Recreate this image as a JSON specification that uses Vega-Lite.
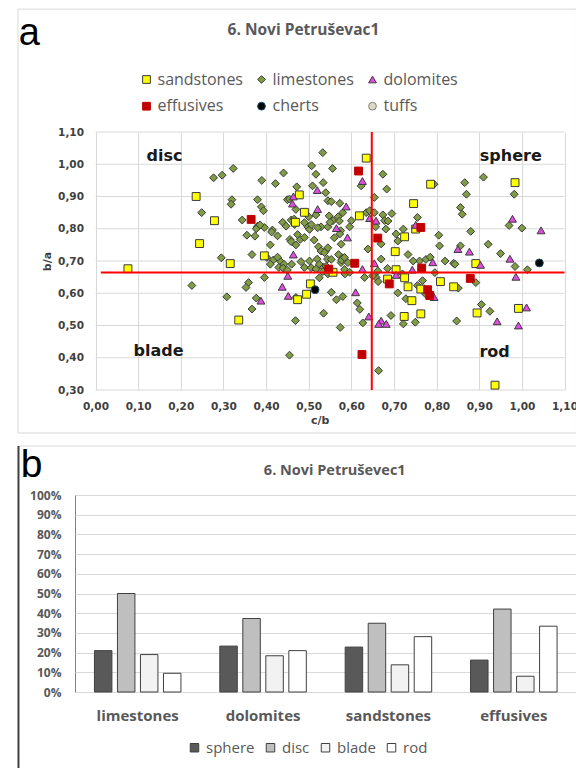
{
"$schema": "https://vega.github.io/schema/vega-lite/v6.json",
"padding": {"left": 16, "top": 8, "right": 0, "bottom": 0},
"spacing": 10,
"config": {"font": "Open Sans"},
"resolve": {"scale": {"fill": "independent", "stroke": "independent", "shape": "independent"}, "legend": {"fill": "independent", "stroke": "independent", "shape": "independent"}},
"vconcat": [
{
 "width": 489.5, "height": 258,
 "view": {"stroke": null},
 "title": {"text": "6. Novi Petruševac1", "anchor": "middle", "frame": "bounds", "offset": -41.5, "dx": 6, "baseline": "alphabetic", "font": "Open Sans", "fontSize": 15.5, "fontWeight": "bold", "color": "#595959"},
 "layer": [
  {"data": {"values": [{}]},
   "mark": {"type": "rect", "fill": "transparent", "stroke": "#d9d9d9", "strokeWidth": 1},
   "encoding": {
    "x": {"datum": -0.1818, "type": "quantitative", "scale": {"domain": [-0.0481, 1.1], "nice": false, "zero": false},
      "axis": {"values": [0, 0.1, 0.2, 0.3, 0.4, 0.5, 0.6, 0.7, 0.8, 0.9, 1.0, 1.1], "labelExpr": "replace(format(datum.value, '.2f'), '.', ',')", "labelFont": "DejaVu Sans", "labelFontWeight": "bold", "labelFontSize": 10.5, "labelColor": "#404040", "labelPadding": 11, "labelFlush": false, "labelOverlap": false, "ticks": false, "domain": false, "grid": true, "gridColor": "#d9d9d9", "title": "c/b", "titleFont": "DejaVu Sans", "titleFontSize": 11, "titleFontWeight": "bold", "titleColor": "#404040", "titlePadding": 3}},
    "x2": {"datum": 1.128},
    "y": {"datum": 1.481, "type": "quantitative", "scale": {"domain": [0.3, 1.1], "nice": false, "zero": false},
      "axis": {"values": [0.3, 0.4, 0.5, 0.6, 0.7, 0.8, 0.9, 1.0, 1.1], "labelExpr": "replace(format(datum.value, '.2f'), '.', ',')", "labelFont": "DejaVu Sans", "labelFontWeight": "bold", "labelFontSize": 10.5, "labelColor": "#404040", "labelPadding": 12, "labelFlush": false, "labelOverlap": false, "ticks": false, "domain": false, "grid": false, "offset": -20.5, "title": "b/a", "titleFont": "DejaVu Sans", "titleFontSize": 11, "titleFontWeight": "bold", "titleColor": "#404040", "titlePadding": 5}},
    "y2": {"datum": 0.1667}}},
  {"data": {"values": [{}]},
   "mark": {"type": "text", "text": "a", "font": "Liberation Sans", "fontSize": 38, "align": "center", "baseline": "alphabetic", "color": "#000000"},
   "encoding": {
    "x": {"datum": -0.155, "type": "quantitative", "scale": {"domain": [-0.0481, 1.1], "nice": false, "zero": false},
      "axis": {"values": [0, 0.1, 0.2, 0.3, 0.4, 0.5, 0.6, 0.7, 0.8, 0.9, 1.0, 1.1], "labelExpr": "replace(format(datum.value, '.2f'), '.', ',')", "labelFont": "DejaVu Sans", "labelFontWeight": "bold", "labelFontSize": 10.5, "labelColor": "#404040", "labelPadding": 11, "labelFlush": false, "labelOverlap": false, "ticks": false, "domain": false, "grid": true, "gridColor": "#d9d9d9", "title": "c/b", "titleFont": "DejaVu Sans", "titleFontSize": 11, "titleFontWeight": "bold", "titleColor": "#404040", "titlePadding": 3}},
    "y": {"datum": 1.37, "type": "quantitative", "scale": {"domain": [0.3, 1.1], "nice": false, "zero": false},
      "axis": {"values": [0.3, 0.4, 0.5, 0.6, 0.7, 0.8, 0.9, 1.0, 1.1], "labelExpr": "replace(format(datum.value, '.2f'), '.', ',')", "labelFont": "DejaVu Sans", "labelFontWeight": "bold", "labelFontSize": 10.5, "labelColor": "#404040", "labelPadding": 12, "labelFlush": false, "labelOverlap": false, "ticks": false, "domain": false, "grid": false, "offset": -20.5, "title": "b/a", "titleFont": "DejaVu Sans", "titleFontSize": 11, "titleFontWeight": "bold", "titleColor": "#404040", "titlePadding": 5}}}},
  {"data": {"values": [{"g": 0.3}, {"g": 0.4}, {"g": 0.5}, {"g": 0.6}, {"g": 0.7}, {"g": 0.8}, {"g": 0.9}, {"g": 1.0}, {"g": 1.1}]},
   "mark": {"type": "rule", "color": "#d9d9d9", "strokeWidth": 1},
   "encoding": {
    "y": {"field": "g", "type": "quantitative", "scale": {"domain": [0.3, 1.1], "nice": false, "zero": false},
      "axis": {"values": [0.3, 0.4, 0.5, 0.6, 0.7, 0.8, 0.9, 1.0, 1.1], "labelExpr": "replace(format(datum.value, '.2f'), '.', ',')", "labelFont": "DejaVu Sans", "labelFontWeight": "bold", "labelFontSize": 10.5, "labelColor": "#404040", "labelPadding": 12, "labelFlush": false, "labelOverlap": false, "ticks": false, "domain": false, "grid": false, "offset": -20.5, "title": "b/a", "titleFont": "DejaVu Sans", "titleFontSize": 11, "titleFontWeight": "bold", "titleColor": "#404040", "titlePadding": 5}},
    "x": {"datum": 0, "type": "quantitative", "scale": {"domain": [-0.0481, 1.1], "nice": false, "zero": false},
      "axis": {"values": [0, 0.1, 0.2, 0.3, 0.4, 0.5, 0.6, 0.7, 0.8, 0.9, 1.0, 1.1], "labelExpr": "replace(format(datum.value, '.2f'), '.', ',')", "labelFont": "DejaVu Sans", "labelFontWeight": "bold", "labelFontSize": 10.5, "labelColor": "#404040", "labelPadding": 11, "labelFlush": false, "labelOverlap": false, "ticks": false, "domain": false, "grid": true, "gridColor": "#d9d9d9", "title": "c/b", "titleFont": "DejaVu Sans", "titleFontSize": 11, "titleFontWeight": "bold", "titleColor": "#404040", "titlePadding": 3}},
    "x2": {"datum": 1.1}}},
  {"data": {"values": [
{"t":"limestones","x":0.277,"y":0.958},{"t":"limestones","x":0.297,"y":0.966},{"t":"limestones","x":0.249,"y":0.85},{"t":"limestones","x":0.226,"y":0.624},{"t":"limestones","x":0.295,"y":0.71},
{"t":"limestones","x":0.323,"y":0.987},{"t":"limestones","x":0.32,"y":0.89},{"t":"limestones","x":0.318,"y":0.876},{"t":"limestones","x":0.344,"y":0.827},{"t":"limestones","x":0.39,"y":0.95},{"t":"limestones","x":0.422,"y":0.94},{"t":"limestones","x":0.441,"y":0.973},{"t":"limestones","x":0.38,"y":0.89},{"t":"limestones","x":0.389,"y":0.868},{"t":"limestones","x":0.394,"y":0.856},{"t":"limestones","x":0.38,"y":0.808},{"t":"limestones","x":0.396,"y":0.804},{"t":"limestones","x":0.355,"y":0.78},{"t":"limestones","x":0.374,"y":0.777},{"t":"limestones","x":0.367,"y":0.72},{"t":"limestones","x":0.41,"y":0.75},{"t":"limestones","x":0.415,"y":0.796},{"t":"limestones","x":0.427,"y":0.778},{"t":"limestones","x":0.439,"y":0.82},{"t":"limestones","x":0.447,"y":0.808},{"t":"limestones","x":0.456,"y":0.767},{"t":"limestones","x":0.47,"y":0.86},{"t":"limestones","x":0.472,"y":0.93},{"t":"limestones","x":0.45,"y":0.89},{"t":"limestones","x":0.48,"y":0.767},{"t":"limestones","x":0.49,"y":0.773},{"t":"limestones","x":0.498,"y":0.806},{"t":"limestones","x":0.402,"y":0.711},{"t":"limestones","x":0.417,"y":0.703},{"t":"limestones","x":0.433,"y":0.7},{"t":"limestones","x":0.482,"y":0.698},{"t":"limestones","x":0.5,"y":0.837},{"t":"limestones","x":0.427,"y":0.712},{"t":"limestones","x":0.442,"y":0.69},{"t":"limestones","x":0.459,"y":0.76},{"t":"limestones","x":0.47,"y":0.75},{"t":"limestones","x":0.474,"y":0.782},{"t":"limestones","x":0.459,"y":0.827},{"t":"limestones","x":0.467,"y":0.813},{"t":"limestones","x":0.49,"y":0.819},{"t":"limestones","x":0.377,"y":0.8},{"t":"limestones","x":0.386,"y":0.812},{"t":"limestones","x":0.413,"y":0.79},{"t":"limestones","x":0.455,"y":0.892},{"t":"limestones","x":0.466,"y":0.83},
{"t":"limestones","x":0.533,"y":1.036},{"t":"limestones","x":0.507,"y":0.995},{"t":"limestones","x":0.517,"y":0.969},{"t":"limestones","x":0.534,"y":0.943},{"t":"limestones","x":0.509,"y":0.933},{"t":"limestones","x":0.54,"y":0.912},{"t":"limestones","x":0.517,"y":0.843},{"t":"limestones","x":0.545,"y":0.887},{"t":"limestones","x":0.529,"y":0.806},{"t":"limestones","x":0.545,"y":0.806},{"t":"limestones","x":0.548,"y":0.84},{"t":"limestones","x":0.523,"y":0.744},{"t":"limestones","x":0.54,"y":0.732},{"t":"limestones","x":0.544,"y":0.706},{"t":"limestones","x":0.52,"y":0.706},{"t":"limestones","x":0.502,"y":0.7},{"t":"limestones","x":0.556,"y":0.987},{"t":"limestones","x":0.623,"y":0.933},{"t":"limestones","x":0.553,"y":0.884},{"t":"limestones","x":0.573,"y":0.879},{"t":"limestones","x":0.58,"y":0.85},{"t":"limestones","x":0.557,"y":0.825},{"t":"limestones","x":0.569,"y":0.837},{"t":"limestones","x":0.635,"y":0.85},{"t":"limestones","x":0.643,"y":0.856},{"t":"limestones","x":0.6,"y":0.825},{"t":"limestones","x":0.596,"y":0.806},{"t":"limestones","x":0.55,"y":0.82},{"t":"limestones","x":0.575,"y":0.794},{"t":"limestones","x":0.573,"y":0.784},{"t":"limestones","x":0.639,"y":0.737},{"t":"limestones","x":0.57,"y":0.72},{"t":"limestones","x":0.58,"y":0.71},{"t":"limestones","x":0.572,"y":0.824},{"t":"limestones","x":0.56,"y":0.772},{"t":"limestones","x":0.576,"y":0.752},{"t":"limestones","x":0.545,"y":0.741},{"t":"limestones","x":0.529,"y":0.731},{"t":"limestones","x":0.537,"y":0.726},{"t":"limestones","x":0.553,"y":0.705},{"t":"limestones","x":0.576,"y":0.695},{"t":"limestones","x":0.592,"y":0.695},{"t":"limestones","x":0.502,"y":0.798},{"t":"limestones","x":0.506,"y":0.813},{"t":"limestones","x":0.521,"y":0.803},{"t":"limestones","x":0.513,"y":0.765},{"t":"limestones","x":0.577,"y":0.703},{"t":"limestones","x":0.584,"y":0.711},
{"t":"limestones","x":0.674,"y":0.969},{"t":"limestones","x":0.683,"y":0.923},{"t":"limestones","x":0.654,"y":0.897},{"t":"limestones","x":0.654,"y":0.85},{"t":"limestones","x":0.674,"y":0.843},{"t":"limestones","x":0.678,"y":0.825},{"t":"limestones","x":0.695,"y":0.847},{"t":"limestones","x":0.657,"y":0.806},{"t":"limestones","x":0.681,"y":0.799},{"t":"limestones","x":0.755,"y":0.835},{"t":"limestones","x":0.722,"y":0.799},{"t":"limestones","x":0.705,"y":0.784},{"t":"limestones","x":0.67,"y":0.753},{"t":"limestones","x":0.67,"y":0.706},{"t":"limestones","x":0.794,"y":0.938},{"t":"limestones","x":0.866,"y":0.943},{"t":"limestones","x":0.87,"y":0.907},{"t":"limestones","x":0.856,"y":0.866},{"t":"limestones","x":0.86,"y":0.845},{"t":"limestones","x":0.805,"y":0.78},{"t":"limestones","x":0.807,"y":0.747},{"t":"limestones","x":0.88,"y":0.792},{"t":"limestones","x":0.856,"y":0.747},{"t":"limestones","x":0.84,"y":0.693},{"t":"limestones","x":0.76,"y":0.7},{"t":"limestones","x":0.775,"y":0.705},{"t":"limestones","x":0.785,"y":0.712},{"t":"limestones","x":0.91,"y":0.96},{"t":"limestones","x":0.982,"y":0.907},{"t":"limestones","x":0.97,"y":0.81},{"t":"limestones","x":1.0,"y":0.802},{"t":"limestones","x":0.921,"y":0.752},{"t":"limestones","x":0.95,"y":0.723},{"t":"limestones","x":0.984,"y":0.683},{"t":"limestones","x":1.013,"y":0.673},{"t":"limestones","x":0.686,"y":0.824},{"t":"limestones","x":0.709,"y":0.762},{"t":"limestones","x":0.685,"y":0.677},{"t":"limestones","x":0.733,"y":0.72},{"t":"limestones","x":0.745,"y":0.7},{"t":"limestones","x":0.82,"y":0.7},{"t":"limestones","x":0.843,"y":0.69},
{"t":"limestones","x":0.308,"y":0.589},{"t":"limestones","x":0.359,"y":0.633},{"t":"limestones","x":0.353,"y":0.618},{"t":"limestones","x":0.396,"y":0.649},{"t":"limestones","x":0.367,"y":0.551},{"t":"limestones","x":0.377,"y":0.585},{"t":"limestones","x":0.47,"y":0.587},{"t":"limestones","x":0.469,"y":0.515},{"t":"limestones","x":0.455,"y":0.408},{"t":"limestones","x":0.43,"y":0.68},{"t":"limestones","x":0.44,"y":0.678},{"t":"limestones","x":0.45,"y":0.672},{"t":"limestones","x":0.46,"y":0.69},{"t":"limestones","x":0.49,"y":0.68},{"t":"limestones","x":0.41,"y":0.69},
{"t":"limestones","x":0.535,"y":0.538},{"t":"limestones","x":0.525,"y":0.69},{"t":"limestones","x":0.535,"y":0.68},{"t":"limestones","x":0.546,"y":0.67},{"t":"limestones","x":0.585,"y":0.66},{"t":"limestones","x":0.596,"y":0.665},{"t":"limestones","x":0.709,"y":0.601},{"t":"limestones","x":0.728,"y":0.583},{"t":"limestones","x":0.614,"y":0.57},{"t":"limestones","x":0.62,"y":0.55},{"t":"limestones","x":0.58,"y":0.59},{"t":"limestones","x":0.565,"y":0.58},{"t":"limestones","x":0.553,"y":0.603},{"t":"limestones","x":0.693,"y":0.531},{"t":"limestones","x":0.722,"y":0.505},{"t":"limestones","x":0.75,"y":0.51},{"t":"limestones","x":0.627,"y":0.508},{"t":"limestones","x":0.574,"y":0.494},{"t":"limestones","x":0.847,"y":0.514},{"t":"limestones","x":0.664,"y":0.36},{"t":"limestones","x":0.658,"y":0.649},{"t":"limestones","x":0.631,"y":0.649},{"t":"limestones","x":0.767,"y":0.639},{"t":"limestones","x":0.755,"y":0.624},{"t":"limestones","x":0.774,"y":0.598},{"t":"limestones","x":0.892,"y":0.633},{"t":"limestones","x":0.851,"y":0.616},{"t":"limestones","x":0.905,"y":0.565},{"t":"limestones","x":0.925,"y":0.544},{"t":"limestones","x":0.796,"y":0.664},{"t":"limestones","x":0.65,"y":0.654},{"t":"limestones","x":0.662,"y":0.669},{"t":"limestones","x":0.506,"y":0.679},{"t":"limestones","x":0.525,"y":0.648},{"t":"limestones","x":0.541,"y":0.684},{"t":"limestones","x":0.584,"y":0.674},{"t":"limestones","x":0.517,"y":0.675},{"t":"limestones","x":0.533,"y":0.667},{"t":"limestones","x":0.545,"y":0.66},{"t":"limestones","x":0.663,"y":0.636},{"t":"limestones","x":0.72,"y":0.66},
{"t":"sandstones","x":0.076,"y":0.676},{"t":"sandstones","x":0.236,"y":0.9},{"t":"sandstones","x":0.279,"y":0.825},{"t":"sandstones","x":0.244,"y":0.754},{"t":"sandstones","x":0.316,"y":0.692},{"t":"sandstones","x":0.396,"y":0.716},{"t":"sandstones","x":0.478,"y":0.905},{"t":"sandstones","x":0.49,"y":0.851},{"t":"sandstones","x":0.469,"y":0.82},{"t":"sandstones","x":0.336,"y":0.517},{"t":"sandstones","x":0.474,"y":0.58},{"t":"sandstones","x":0.495,"y":0.597},{"t":"sandstones","x":0.504,"y":0.629},{"t":"sandstones","x":0.557,"y":0.665},{"t":"sandstones","x":0.635,"y":1.019},{"t":"sandstones","x":0.619,"y":0.84},{"t":"sandstones","x":0.746,"y":0.878},{"t":"sandstones","x":0.751,"y":0.799},{"t":"sandstones","x":0.725,"y":0.775},{"t":"sandstones","x":0.703,"y":0.729},{"t":"sandstones","x":0.786,"y":0.938},{"t":"sandstones","x":0.984,"y":0.943},{"t":"sandstones","x":0.892,"y":0.692},{"t":"sandstones","x":0.705,"y":0.673},{"t":"sandstones","x":0.685,"y":0.644},{"t":"sandstones","x":0.809,"y":0.636},{"t":"sandstones","x":0.84,"y":0.62},{"t":"sandstones","x":0.733,"y":0.62},{"t":"sandstones","x":0.763,"y":0.613},{"t":"sandstones","x":0.742,"y":0.577},{"t":"sandstones","x":0.724,"y":0.528},{"t":"sandstones","x":0.763,"y":0.536},{"t":"sandstones","x":0.895,"y":0.539},{"t":"sandstones","x":0.992,"y":0.553},{"t":"sandstones","x":0.937,"y":0.315},{"t":"sandstones","x":0.725,"y":0.648},
{"t":"dolomites","x":0.464,"y":0.9},{"t":"dolomites","x":0.462,"y":0.878},{"t":"dolomites","x":0.464,"y":0.72},{"t":"dolomites","x":0.52,"y":0.92},{"t":"dolomites","x":0.521,"y":0.861},{"t":"dolomites","x":0.626,"y":0.948},{"t":"dolomites","x":0.588,"y":0.869},{"t":"dolomites","x":0.643,"y":0.833},{"t":"dolomites","x":0.565,"y":0.802},{"t":"dolomites","x":0.591,"y":0.773},{"t":"dolomites","x":0.658,"y":0.825},{"t":"dolomites","x":0.751,"y":0.812},{"t":"dolomites","x":0.85,"y":0.737},{"t":"dolomites","x":0.877,"y":0.729},{"t":"dolomites","x":0.791,"y":0.696},{"t":"dolomites","x":0.654,"y":0.693},{"t":"dolomites","x":0.978,"y":0.831},{"t":"dolomites","x":1.045,"y":0.795},{"t":"dolomites","x":0.972,"y":0.707},{"t":"dolomites","x":0.903,"y":0.688},{"t":"dolomites","x":0.388,"y":0.577},{"t":"dolomites","x":0.438,"y":0.62},{"t":"dolomites","x":0.451,"y":0.654},{"t":"dolomites","x":0.452,"y":0.592},{"t":"dolomites","x":0.626,"y":0.675},{"t":"dolomites","x":0.705,"y":0.657},{"t":"dolomites","x":0.743,"y":0.673},{"t":"dolomites","x":0.794,"y":0.588},{"t":"dolomites","x":0.61,"y":0.603},{"t":"dolomites","x":0.641,"y":0.528},{"t":"dolomites","x":0.67,"y":0.515},{"t":"dolomites","x":0.664,"y":0.505},{"t":"dolomites","x":0.682,"y":0.505},{"t":"dolomites","x":0.942,"y":0.513},{"t":"dolomites","x":1.011,"y":0.556},{"t":"dolomites","x":0.992,"y":0.5},{"t":"dolomites","x":0.986,"y":0.651},
{"t":"effusives","x":0.365,"y":0.829},{"t":"effusives","x":0.617,"y":0.979},{"t":"effusives","x":0.608,"y":0.693},{"t":"effusives","x":0.763,"y":0.804},{"t":"effusives","x":0.662,"y":0.771},{"t":"effusives","x":0.547,"y":0.675},{"t":"effusives","x":0.689,"y":0.629},{"t":"effusives","x":0.765,"y":0.678},{"t":"effusives","x":0.879,"y":0.646},{"t":"effusives","x":0.779,"y":0.611},{"t":"effusives","x":0.784,"y":0.593},{"t":"effusives","x":0.625,"y":0.41},
{"t":"cherts","x":0.515,"y":0.611},{"t":"cherts","x":1.041,"y":0.694}
  ]},
   "mark": {"type": "point", "filled": true, "size": 62, "strokeWidth": 1, "opacity": 1},
   "encoding": {
    "x": {"field": "x", "type": "quantitative", "scale": {"domain": [-0.0481, 1.1], "nice": false, "zero": false},
      "axis": {"values": [0, 0.1, 0.2, 0.3, 0.4, 0.5, 0.6, 0.7, 0.8, 0.9, 1.0, 1.1], "labelExpr": "replace(format(datum.value, '.2f'), '.', ',')", "labelFont": "DejaVu Sans", "labelFontWeight": "bold", "labelFontSize": 10.5, "labelColor": "#404040", "labelPadding": 11, "labelFlush": false, "labelOverlap": false, "ticks": false, "domain": false, "grid": true, "gridColor": "#d9d9d9", "title": "c/b", "titleFont": "DejaVu Sans", "titleFontSize": 11, "titleFontWeight": "bold", "titleColor": "#404040", "titlePadding": 3}},
    "y": {"field": "y", "type": "quantitative", "scale": {"domain": [0.3, 1.1], "nice": false, "zero": false},
      "axis": {"values": [0.3, 0.4, 0.5, 0.6, 0.7, 0.8, 0.9, 1.0, 1.1], "labelExpr": "replace(format(datum.value, '.2f'), '.', ',')", "labelFont": "DejaVu Sans", "labelFontWeight": "bold", "labelFontSize": 10.5, "labelColor": "#404040", "labelPadding": 12, "labelFlush": false, "labelOverlap": false, "ticks": false, "domain": false, "grid": false, "offset": -20.5, "title": "b/a", "titleFont": "DejaVu Sans", "titleFontSize": 11, "titleFontWeight": "bold", "titleColor": "#404040", "titlePadding": 5}},
    "shape": {"field": "t", "type": "nominal",
      "scale": {"domain": ["sandstones", "limestones", "dolomites", "effusives", "cherts", "tuffs"], "range": ["square", "diamond", "triangle-up", "square", "circle", "circle"]},
      "legend": {"title": null, "orient": "none", "legendX": 63.5, "legendY": -60.5, "direction": "horizontal", "columns": 3, "labelFont": "Open Sans", "labelFontSize": 16, "labelColor": "#595959", "symbolSize": 60, "symbolStrokeWidth": 1, "labelOffset": 3, "columnPadding": 10, "rowPadding": 10.7}},
    "fill": {"field": "t", "type": "nominal",
      "scale": {"domain": ["sandstones", "limestones", "dolomites", "effusives", "cherts", "tuffs"], "range": ["#ffff00", "#809c45", "#e04be0", "#c00000", "#000000", "#ddd9c3"]},
      "legend": {"title": null, "orient": "none", "legendX": 63.5, "legendY": -60.5, "direction": "horizontal", "columns": 3, "labelFont": "Open Sans", "labelFontSize": 16, "labelColor": "#595959", "symbolSize": 60, "symbolStrokeWidth": 1, "labelOffset": 3, "columnPadding": 10, "rowPadding": 10.7}},
    "stroke": {"field": "t", "type": "nominal",
      "scale": {"domain": ["sandstones", "limestones", "dolomites", "effusives", "cherts", "tuffs"], "range": ["#3a3a3a", "#3a3a3a", "#3a3a3a", "#c00000", "#1f4e5f", "#7f7f7f"]},
      "legend": {"title": null, "orient": "none", "legendX": 63.5, "legendY": -60.5, "direction": "horizontal", "columns": 3, "labelFont": "Open Sans", "labelFontSize": 16, "labelColor": "#595959", "symbolSize": 60, "symbolStrokeWidth": 1, "labelOffset": 3, "columnPadding": 10, "rowPadding": 10.7}}
   }},
  {"data": {"values": [{}]},
   "mark": {"type": "rule", "color": "#ff0000", "strokeWidth": 2},
   "encoding": {
    "x": {"datum": 0.648, "type": "quantitative", "scale": {"domain": [-0.0481, 1.1], "nice": false, "zero": false},
      "axis": {"values": [0, 0.1, 0.2, 0.3, 0.4, 0.5, 0.6, 0.7, 0.8, 0.9, 1.0, 1.1], "labelExpr": "replace(format(datum.value, '.2f'), '.', ',')", "labelFont": "DejaVu Sans", "labelFontWeight": "bold", "labelFontSize": 10.5, "labelColor": "#404040", "labelPadding": 11, "labelFlush": false, "labelOverlap": false, "ticks": false, "domain": false, "grid": true, "gridColor": "#d9d9d9", "title": "c/b", "titleFont": "DejaVu Sans", "titleFontSize": 11, "titleFontWeight": "bold", "titleColor": "#404040", "titlePadding": 3}},
    "y": {"datum": 0.3, "type": "quantitative", "scale": {"domain": [0.3, 1.1], "nice": false, "zero": false},
      "axis": {"values": [0.3, 0.4, 0.5, 0.6, 0.7, 0.8, 0.9, 1.0, 1.1], "labelExpr": "replace(format(datum.value, '.2f'), '.', ',')", "labelFont": "DejaVu Sans", "labelFontWeight": "bold", "labelFontSize": 10.5, "labelColor": "#404040", "labelPadding": 12, "labelFlush": false, "labelOverlap": false, "ticks": false, "domain": false, "grid": false, "offset": -20.5, "title": "b/a", "titleFont": "DejaVu Sans", "titleFontSize": 11, "titleFontWeight": "bold", "titleColor": "#404040", "titlePadding": 5}},
    "y2": {"datum": 1.1}}},
  {"data": {"values": [{}]},
   "mark": {"type": "rule", "color": "#ff0000", "strokeWidth": 2},
   "encoding": {
    "y": {"datum": 0.664, "type": "quantitative", "scale": {"domain": [0.3, 1.1], "nice": false, "zero": false},
      "axis": {"values": [0.3, 0.4, 0.5, 0.6, 0.7, 0.8, 0.9, 1.0, 1.1], "labelExpr": "replace(format(datum.value, '.2f'), '.', ',')", "labelFont": "DejaVu Sans", "labelFontWeight": "bold", "labelFontSize": 10.5, "labelColor": "#404040", "labelPadding": 12, "labelFlush": false, "labelOverlap": false, "ticks": false, "domain": false, "grid": false, "offset": -20.5, "title": "b/a", "titleFont": "DejaVu Sans", "titleFontSize": 11, "titleFontWeight": "bold", "titleColor": "#404040", "titlePadding": 5}},
    "x": {"datum": 0.0125, "type": "quantitative", "scale": {"domain": [-0.0481, 1.1], "nice": false, "zero": false},
      "axis": {"values": [0, 0.1, 0.2, 0.3, 0.4, 0.5, 0.6, 0.7, 0.8, 0.9, 1.0, 1.1], "labelExpr": "replace(format(datum.value, '.2f'), '.', ',')", "labelFont": "DejaVu Sans", "labelFontWeight": "bold", "labelFontSize": 10.5, "labelColor": "#404040", "labelPadding": 11, "labelFlush": false, "labelOverlap": false, "ticks": false, "domain": false, "grid": true, "gridColor": "#d9d9d9", "title": "c/b", "titleFont": "DejaVu Sans", "titleFontSize": 11, "titleFontWeight": "bold", "titleColor": "#404040", "titlePadding": 3}},
    "x2": {"datum": 1.1}}},
  {"data": {"values": [{"q": "disc", "px": 0.162, "py": 1.026}, {"q": "sphere", "px": 0.974, "py": 1.026}, {"q": "blade", "px": 0.148, "py": 0.421}, {"q": "rod", "px": 0.936, "py": 0.418}]},
   "mark": {"type": "text", "font": "DejaVu Sans", "fontSize": 16, "fontWeight": "bold", "color": "#1a1a1a", "align": "center", "baseline": "middle"},
   "encoding": {
    "text": {"field": "q"},
    "x": {"field": "px", "type": "quantitative", "scale": {"domain": [-0.0481, 1.1], "nice": false, "zero": false},
      "axis": {"values": [0, 0.1, 0.2, 0.3, 0.4, 0.5, 0.6, 0.7, 0.8, 0.9, 1.0, 1.1], "labelExpr": "replace(format(datum.value, '.2f'), '.', ',')", "labelFont": "DejaVu Sans", "labelFontWeight": "bold", "labelFontSize": 10.5, "labelColor": "#404040", "labelPadding": 11, "labelFlush": false, "labelOverlap": false, "ticks": false, "domain": false, "grid": true, "gridColor": "#d9d9d9", "title": "c/b", "titleFont": "DejaVu Sans", "titleFontSize": 11, "titleFontWeight": "bold", "titleColor": "#404040", "titlePadding": 3}},
    "y": {"field": "py", "type": "quantitative", "scale": {"domain": [0.3, 1.1], "nice": false, "zero": false},
      "axis": {"values": [0.3, 0.4, 0.5, 0.6, 0.7, 0.8, 0.9, 1.0, 1.1], "labelExpr": "replace(format(datum.value, '.2f'), '.', ',')", "labelFont": "DejaVu Sans", "labelFontWeight": "bold", "labelFontSize": 10.5, "labelColor": "#404040", "labelPadding": 12, "labelFlush": false, "labelOverlap": false, "ticks": false, "domain": false, "grid": false, "offset": -20.5, "title": "b/a", "titleFont": "DejaVu Sans", "titleFontSize": 11, "titleFontWeight": "bold", "titleColor": "#404040", "titlePadding": 5}}}}
 ]
},
{
 "width": 501.5, "height": 197,
 "view": {"stroke": "#808080"},
 "title": {"text": "6. Novi Petruševec1", "anchor": "middle", "frame": "group", "offset": -44.5, "dx": 9, "baseline": "alphabetic", "font": "Open Sans", "fontSize": 14.5, "fontWeight": "bold", "color": "#595959"},
 "resolve": {"scale": {"x": "independent"}},
 "layer": [
  {"data": {"values": [
{"rock":"limestones","shape":"sphere","value":0.21},{"rock":"limestones","shape":"disc","value":0.5},{"rock":"limestones","shape":"blade","value":0.19},{"rock":"limestones","shape":"rod","value":0.095},
{"rock":"dolomites","shape":"sphere","value":0.233},{"rock":"dolomites","shape":"disc","value":0.373},{"rock":"dolomites","shape":"blade","value":0.184},{"rock":"dolomites","shape":"rod","value":0.21},
{"rock":"sandstones","shape":"sphere","value":0.228},{"rock":"sandstones","shape":"disc","value":0.349},{"rock":"sandstones","shape":"blade","value":0.138},{"rock":"sandstones","shape":"rod","value":0.281},
{"rock":"effusives","shape":"sphere","value":0.162},{"rock":"effusives","shape":"disc","value":0.421},{"rock":"effusives","shape":"blade","value":0.08},{"rock":"effusives","shape":"rod","value":0.334}
  ]},
   "mark": {"type": "bar", "stroke": "#404040", "strokeWidth": 1},
   "encoding": {
    "x": {"field": "rock", "type": "nominal", "sort": ["limestones", "dolomites", "sandstones", "effusives"], "scale": {"paddingInner": 0.31, "paddingOuter": 0.155},
      "axis": {"title": null, "labelAngle": 0, "labelFont": "Open Sans", "labelFontWeight": "bold", "labelFontSize": 15, "labelColor": "#595959", "labelPadding": 16, "ticks": false, "domain": false, "grid": false}},
    "xOffset": {"field": "shape", "type": "nominal", "sort": ["sphere", "disc", "blade", "rod"], "scale": {"paddingInner": 0.24, "paddingOuter": 0}},
    "y": {"field": "value", "type": "quantitative", "scale": {"domain": [0, 1], "nice": false, "zero": true},
      "axis": {"values": [0, 0.1, 0.2, 0.3, 0.4, 0.5, 0.6, 0.7, 0.8, 0.9, 1.0], "format": ".0%", "title": null, "labelFont": "Open Sans", "labelFontWeight": "bold", "labelFontSize": 12, "labelColor": "#595959", "labelPadding": 14, "labelFlush": false, "ticks": false, "domain": false, "grid": true, "gridColor": "#d9d9d9"}},
    "fill": {"field": "shape", "type": "nominal", "scale": {"domain": ["sphere", "disc", "blade", "rod"], "range": ["#595959", "#bfbfbf", "#f2f2f2", "#ffffff"]},
      "legend": {"title": null, "orient": "none", "legendX": 112, "legendY": 245, "direction": "horizontal", "labelFont": "Open Sans", "labelFontSize": 15, "labelColor": "#595959", "symbolType": "square", "symbolSize": 72, "symbolStrokeColor": "#404040", "symbolStrokeWidth": 1, "labelOffset": 4, "columnPadding": 8}}
   }},
  {"data": {"values": [{}]},
   "mark": {"type": "text", "text": "b", "font": "Liberation Sans", "fontSize": 39, "align": "center", "baseline": "alphabetic", "color": "#000000"},
   "encoding": {
    "x": {"datum": -0.0867, "type": "quantitative", "scale": {"domain": [0, 1], "nice": false, "zero": false}, "axis": null},
    "y": {"datum": 1.091, "type": "quantitative", "scale": {"domain": [0, 1], "nice": false, "zero": true},
      "axis": {"values": [0, 0.1, 0.2, 0.3, 0.4, 0.5, 0.6, 0.7, 0.8, 0.9, 1.0], "format": ".0%", "title": null, "labelFont": "Open Sans", "labelFontWeight": "bold", "labelFontSize": 12, "labelColor": "#595959", "labelPadding": 14, "labelFlush": false, "ticks": false, "domain": false, "grid": true, "gridColor": "#d9d9d9"}}}},
  {"data": {"values": [{}]},
   "mark": {"type": "rule", "color": "#d9d9d9", "strokeWidth": 1},
   "encoding": {
    "x": {"datum": -0.1127, "type": "quantitative", "scale": {"domain": [0, 1], "nice": false, "zero": false}, "axis": null},
    "x2": {"datum": 1.004},
    "y": {"datum": 1.2487, "type": "quantitative", "scale": {"domain": [0, 1], "nice": false, "zero": true},
      "axis": {"values": [0, 0.1, 0.2, 0.3, 0.4, 0.5, 0.6, 0.7, 0.8, 0.9, 1.0], "format": ".0%", "title": null, "labelFont": "Open Sans", "labelFontWeight": "bold", "labelFontSize": 12, "labelColor": "#595959", "labelPadding": 14, "labelFlush": false, "ticks": false, "domain": false, "grid": true, "gridColor": "#d9d9d9"}}}},
  {"data": {"values": [{}]},
   "mark": {"type": "rule", "color": "#404040", "strokeWidth": 2},
   "encoding": {
    "x": {"datum": -0.1127, "type": "quantitative", "scale": {"domain": [0, 1], "nice": false, "zero": false}, "axis": null},
    "y": {"datum": 1.2487, "type": "quantitative", "scale": {"domain": [0, 1], "nice": false, "zero": true},
      "axis": {"values": [0, 0.1, 0.2, 0.3, 0.4, 0.5, 0.6, 0.7, 0.8, 0.9, 1.0], "format": ".0%", "title": null, "labelFont": "Open Sans", "labelFontWeight": "bold", "labelFontSize": 12, "labelColor": "#595959", "labelPadding": 14, "labelFlush": false, "ticks": false, "domain": false, "grid": true, "gridColor": "#d9d9d9"}},
    "y2": {"datum": -0.386}}}
 ]
}
]
}
